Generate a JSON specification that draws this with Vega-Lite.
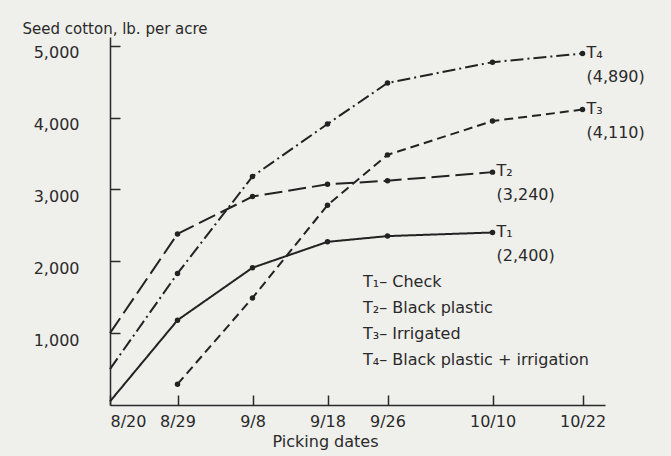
{
  "$schema": "https://vega.github.io/schema/vega-lite/v6.json",
  "width": 495,
  "height": 368,
  "autosize": {"type": "none"},
  "padding": {"left": 110, "top": 37, "right": 66, "bottom": 51},
  "background": "#efefec",
  "config": {
    "view": {"stroke": null},
    "font": "DejaVu Sans",
    "axis": {
      "domainColor": "#2a2a2a",
      "domainWidth": 1.5,
      "tickColor": "#2a2a2a",
      "tickWidth": 1.5,
      "tickSize": -10,
      "labelColor": "#2a2a2a",
      "labelFont": "DejaVu Sans",
      "labelFontSize": 16,
      "titleColor": "#2a2a2a",
      "titleFont": "DejaVu Sans",
      "titleFontWeight": "normal",
      "grid": false
    }
  },
  "datasets": {
    "yields": [
      {"series": "T1", "date": "1965-08-20T00:00", "value": 50},
      {"series": "T1", "date": "1965-08-29T00:00", "value": 1180},
      {"series": "T1", "date": "1965-09-08T00:00", "value": 1910},
      {"series": "T1", "date": "1965-09-18T00:00", "value": 2270},
      {"series": "T1", "date": "1965-09-26T00:00", "value": 2350},
      {"series": "T1", "date": "1965-10-10T00:00", "value": 2400},
      {"series": "T2", "date": "1965-08-20T00:00", "value": 1000},
      {"series": "T2", "date": "1965-08-29T00:00", "value": 2380},
      {"series": "T2", "date": "1965-09-08T00:00", "value": 2900},
      {"series": "T2", "date": "1965-09-18T00:00", "value": 3070},
      {"series": "T2", "date": "1965-09-26T00:00", "value": 3120},
      {"series": "T2", "date": "1965-10-10T00:00", "value": 3240},
      {"series": "T3", "date": "1965-08-29T00:00", "value": 290},
      {"series": "T3", "date": "1965-09-08T00:00", "value": 1490},
      {"series": "T3", "date": "1965-09-18T00:00", "value": 2780},
      {"series": "T3", "date": "1965-09-26T00:00", "value": 3480},
      {"series": "T3", "date": "1965-10-10T00:00", "value": 3950},
      {"series": "T3", "date": "1965-10-22T00:00", "value": 4110},
      {"series": "T4", "date": "1965-08-20T00:00", "value": 500},
      {"series": "T4", "date": "1965-08-29T00:00", "value": 1830},
      {"series": "T4", "date": "1965-09-08T00:00", "value": 3180},
      {"series": "T4", "date": "1965-09-18T00:00", "value": 3910},
      {"series": "T4", "date": "1965-09-26T00:00", "value": 4480},
      {"series": "T4", "date": "1965-10-10T00:00", "value": 4770},
      {"series": "T4", "date": "1965-10-22T00:00", "value": 4890}
    ],
    "ends": [
      {"series": "T1", "date": "1965-10-10T00:00", "value": 2400, "text": "T₁\n(2,400)"},
      {"series": "T2", "date": "1965-10-10T00:00", "value": 3240, "text": "T₂\n(3,240)"},
      {"series": "T3", "date": "1965-10-22T00:00", "value": 4110, "text": "T₃\n(4,110)"},
      {"series": "T4", "date": "1965-10-22T00:00", "value": 4890, "text": "T₄\n(4,890)"}
    ]
  },
  "layer": [
    {
      "data": {"name": "yields"},
      "mark": {"type": "line", "color": "#222222", "strokeWidth": 2},
      "encoding": {
        "x": {
          "field": "date",
          "type": "temporal",
          "scale": {"domain": [{"year": 1965, "month": 8, "date": 20}, {"year": 1965, "month": 10, "date": 25}], "nice": false},
          "axis": {
            "values": [
              {"year": 1965, "month": 8, "date": 20},
              {"year": 1965, "month": 8, "date": 29},
              {"year": 1965, "month": 9, "date": 8},
              {"year": 1965, "month": 9, "date": 18},
              {"year": 1965, "month": 9, "date": 26},
              {"year": 1965, "month": 10, "date": 10},
              {"year": 1965, "month": 10, "date": 22}
            ],
            "format": "%-m/%-d",
            "labelPadding": 18,
            "title": "Picking dates",
            "titleFontSize": 16,
            "titleX": 215,
            "titleY": 36,
            "titleBaseline": "middle",
            "titleAnchor": null
          }
        },
        "y": {
          "field": "value",
          "type": "quantitative",
          "scale": {"domain": [0, 5120], "nice": false, "zero": true},
          "axis": {
            "values": [1000, 2000, 3000, 4000, 5000],
            "format": ",d",
            "labelPadding": 41,
            "labelOffset": 7,
            "title": "Seed cotton, lb. per acre",
            "titleFontSize": 15,
            "titleAngle": 0,
            "titleAlign": "left",
            "titleBaseline": "alphabetic",
            "titleX": -88,
            "titleY": -4
          }
        },
        "strokeDash": {
          "field": "series",
          "type": "nominal",
          "scale": {"domain": ["T1", "T2", "T3", "T4"], "range": [[1, 0], [18, 6], [9, 5], [13, 4, 2, 4]]},
          "legend": {
            "orient": "none",
            "legendX": 237,
            "legendY": 237,
            "title": null,
            "padding": 0,
            "symbolSize": 0,
            "symbolStrokeWidth": 0,
            "symbolOpacity": 0,
            "labelOffset": 0,
            "labelFontSize": 16,
            "labelColor": "#2a2a2a",
            "labelFont": "DejaVu Sans",
            "rowPadding": 10,
            "labelLimit": 400,
            "labelExpr": "datum.value == 'T1' ? 'T₁– Check' : datum.value == 'T2' ? 'T₂– Black plastic' : datum.value == 'T3' ? 'T₃– Irrigated' : 'T₄– Black plastic + irrigation'"
          }
        },
        "detail": {"field": "series", "type": "nominal"}
      }
    },
    {
      "data": {"name": "yields"},
      "transform": [{"filter": {"field": "date", "gt": {"year": 1965, "month": 8, "date": 21}}}],
      "mark": {"type": "circle", "color": "#222222", "size": 30, "opacity": 1},
      "encoding": {
        "x": {"field": "date", "type": "temporal"},
        "y": {"field": "value", "type": "quantitative"}
      }
    },
    {
      "data": {"name": "ends"},
      "mark": {"type": "text", "align": "left", "baseline": "top", "dx": 4, "dy": -9, "fontSize": 16, "lineHeight": 24, "lineBreak": "\n", "color": "#2a2a2a", "font": "DejaVu Sans"},
      "encoding": {
        "x": {"field": "date", "type": "temporal"},
        "y": {"field": "value", "type": "quantitative"},
        "text": {"field": "text", "type": "nominal"}
      }
    }
  ]
}
